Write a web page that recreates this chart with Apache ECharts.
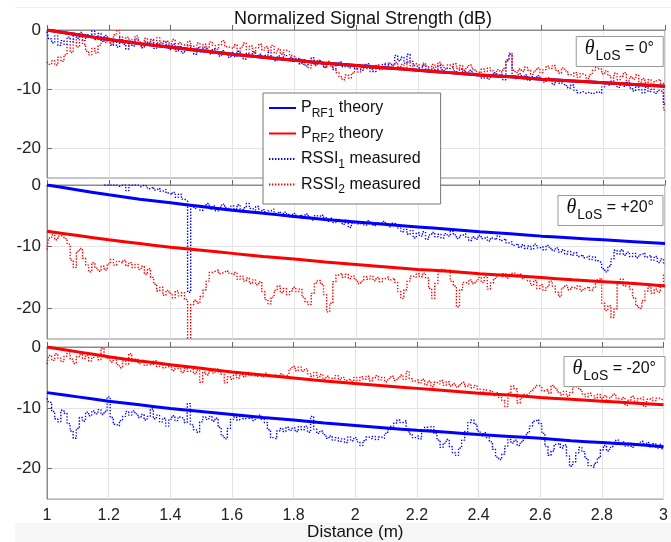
<!DOCTYPE html>
<html>
<head>
<meta charset="utf-8">
<script src="https://cdn.jsdelivr.net/npm/echarts@6/dist/echarts.min.js"></script>
<style>
  html, body { margin: 0; padding: 0; background: #fff; }
  #chart { width: 671px; height: 542px; }
</style>
</head>
<body>
<div id="chart"></div>
<script>
// Sampling of the distance axis (m)
const distStart = 1.0;
const measStep = 0.01;   // RSSI samples
const theoryStep = 0.1;  // theory curve samples

const xTicks = [1, 1.2, 1.4, 1.6, 1.8, 2, 2.2, 2.4, 2.6, 2.8, 3];
const yTicks = [0, -10, -20];
const panelAngles = ['0°', '+20°', '-20°'];
const seriesNames = ['P_RF1 theory', 'P_RF2 theory', 'RSSI_1 measured', 'RSSI_2 measured'];

// ---- theta_LoS = 0 deg ----
const p1Theory1 = [0, -0.8, -1.6, -2.3, -2.9, -3.5, -4.1, -4.6, -5.1, -5.6, -6.0, -6.4, -6.8, -7.2, -7.6, -7.9, -8.3, -8.6, -8.9, -9.2, -9.5];
const p1Theory2 = [0, -0.8, -1.6, -2.3, -2.9, -3.5, -4.1, -4.6, -5.1, -5.6, -6.0, -6.4, -6.8, -7.2, -7.6, -7.9, -8.3, -8.6, -8.9, -9.2, -9.5];
const p1Rssi1 = [
  -0.3, -1.5, -2.2, -1.0, -2.6, -1.8, -2.4, -1.2, -2.0, -0.6, -1.4, -0.4, -1.8, -0.8, -1.2, -0.2, -1.6, -0.6, -1.9, -0.9,
  -1.4, -2.6, -1.8, -2.9, -1.2, -2.4, -3.2, -1.9, -2.7, -1.5, -2.3, -3.0, -2.0, -2.6, -1.6, -3.1, -2.2, -2.8, -1.9, -2.5,
  -3.3, -2.4, -3.6, -2.8, -3.9, -3.1, -2.6, -3.5, -4.1, -3.0, -3.7, -2.9, -3.4, -4.0, -3.2, -3.8, -4.4, -3.5, -3.9, -4.6,
  -3.8, -4.5, -3.6, -4.2, -4.9, -3.9, -4.4, -3.7, -4.6, -4.1, -4.8, -4.3, -3.8, -4.7, -5.2, -4.4, -4.9, -4.2, -5.1, -4.6,
  -5.3, -4.8, -5.7, -5.0, -6.1, -5.4, -4.7, -5.9, -5.2, -5.6, -6.3, -5.3, -5.8, -6.6, -5.9, -5.4, -6.2, -5.7, -6.4, -6.0,
  -6.5, -5.9, -6.8, -6.2, -5.7, -6.6, -7.0, -6.1, -6.5, -5.8, -6.3, -5.6, -6.0, -4.3, -5.2, -4.6, -5.6, -4.1, -5.3, -6.0,
  -6.3, -6.8, -5.9, -6.6, -7.1, -6.4, -6.9, -6.0, -6.7, -7.2, -6.5, -6.2, -6.9, -7.4, -6.6, -7.0, -7.5, -6.8, -7.3, -7.7,
  -7.4, -8.1, -7.6, -8.3, -7.8, -7.2, -8.0, -7.5, -8.4, -5.2, -4.1, -7.7, -8.2, -7.4, -8.0, -7.6, -8.5, -7.9, -8.3, -7.7,
  -8.3, -8.8, -8.1, -8.6, -9.2, -8.5, -9.0, -8.7, -9.4, -9.8, -9.3, -10.2, -10.6, -10.4, -10.7, -10.5, -10.8, -10.6, -10.4, -10.7,
  -9.6, -8.8, -9.3, -8.6, -9.1, -9.7, -9.0, -9.5, -8.9, -9.8, -10.3, -9.4, -10.1, -10.6, -9.7, -10.4, -10.0, -10.7, -10.2, -10.5,
  -12.5
];
const p1Rssi2 = [
  -5.4, -5.8, -5.2, -5.9, -4.6, -5.3, -4.2, -2.5, -3.8, -1.6, -2.9, -1.2, -2.4, -3.6, -4.2, -3.1, -3.9, -2.6, -1.3, -2.1,
  -1.5, -2.4, -0.8, -0.1, -1.7, -2.2, -1.2, -2.6, -1.6, -1.0, -2.0, -2.8, -1.4, -2.2, -1.8, -2.5, -1.3, -2.1, -2.7, -1.9,
  -2.3, -1.6, -2.8, -2.1, -3.2, -2.5, -1.9, -2.7, -3.4, -2.2, -2.9, -2.4, -3.1, -2.0, -2.6, -3.3, -2.5, -1.8, -2.8, -3.0,
  -3.1, -2.5, -3.6, -2.9, -2.2, -3.3, -2.7, -3.8, -3.0, -2.4, -3.4, -2.8, -3.5, -2.6, -3.9, -3.2, -4.1, -3.4, -3.7, -4.3,
  -4.6, -5.3, -4.9, -5.8, -5.2, -6.4, -5.6, -6.0, -5.1, -5.7, -6.3, -5.5, -6.1, -6.7, -7.2, -7.9, -8.4, -7.6, -8.1, -7.3,
  -6.6, -7.1, -6.2, -5.8, -6.5, -7.0, -6.3, -5.9, -6.7, -6.1, -5.6, -6.4, -6.0, -5.5, -6.2, -5.8, -6.6, -5.4, -6.1, -5.7,
  -5.9, -6.4, -5.6, -6.1, -6.7, -5.8, -6.3, -5.5, -6.0, -6.6, -5.9, -6.2, -5.7, -6.5, -6.0, -6.8, -6.3, -5.9, -6.6, -7.0,
  -7.3, -6.6, -7.0, -6.4, -6.9, -7.4, -6.7, -7.1, -6.5, -5.0, -3.9, -6.8, -7.2, -6.6, -7.0, -6.3, -6.8, -7.5, -6.9, -6.4,
  -7.2, -6.7, -6.1, -6.5, -6.0, -6.8, -7.3, -6.4, -6.9, -7.5, -7.8, -7.2, -8.0, -7.4, -7.7, -8.2, -7.5, -6.8, -6.2, -6.6,
  -7.4, -6.9, -7.7, -8.1, -7.3, -8.4, -7.8, -7.2, -8.6, -7.9, -8.3, -7.6, -8.8, -8.2, -8.9, -8.4, -9.1, -8.6, -8.3, -9.0,
  -13.5
];

// ---- theta_LoS = +20 deg ----
const p2Theory1 = [0, -0.8, -1.6, -2.3, -2.9, -3.5, -4.1, -4.6, -5.1, -5.6, -6.0, -6.4, -6.8, -7.2, -7.6, -7.9, -8.3, -8.6, -8.9, -9.2, -9.5];
const p2Theory2 = [-7.5, -8.2, -8.9, -9.5, -10.1, -10.6, -11.1, -11.6, -12.0, -12.5, -12.9, -13.3, -13.7, -14.0, -14.4, -14.7, -15.0, -15.4, -15.7, -16.0, -16.4];
const p2Rssi1 = [
  null, null, null, null, null, null, null, null, null, null, null, null, null, null, null, null, null, null, null, 0,
  0, 0, 0, -0.2, 0, 0, -0.9, 0, 0, 0, -0.3, 0, -0.2, -0.6, -0.3, -0.8, -0.5, -1.0, -0.7, -1.3,
  -1.6, -1.2, -2.0, -1.5, -2.3, -2.6, -17.4, -3.3, -3.8, -3.3, -4.1, -3.5, -3.0, -3.9, -3.4, -4.2, -3.6, -3.1, -3.7, -4.0,
  -3.4, -3.9, -3.2, -4.4, -3.7, -3.0, -3.8, -4.1, -3.5, -4.5, -4.0, -4.7, -4.2, -3.9, -4.6, -4.3, -5.0, -4.4, -4.8, -5.2,
  -4.6, -5.1, -4.8, -5.4, -4.7, -5.2, -5.7, -5.0, -5.5, -4.9, -5.3, -5.9, -5.4, -6.1, -5.6, -5.8, -6.4, -5.7, -6.9, -6.2,
  -5.9, -6.3, -6.0, -6.5, -5.8, -6.2, -6.6, -6.1, -6.4, -5.9, -6.3, -6.8, -6.2, -6.5, -7.0, -7.6, -7.2, -8.0, -7.4, -8.6,
  -7.8, -8.3, -7.6, -8.8, -8.1, -7.7, -8.4, -8.0, -8.6, -7.9, -8.3, -7.5, -8.1, -8.7, -8.2, -7.9, -8.5, -9.0, -8.4, -8.8,
  -8.2, -8.7, -8.4, -9.1, -8.6, -8.9, -8.3, -9.0, -8.7, -9.4, -9.2, -9.8, -9.5, -10.1, -9.7, -10.3, -9.9, -10.4, -9.6, -10.2,
  -10.0, -10.5, -9.8, -10.3, -10.7, -10.2, -10.9, -10.5, -11.2, -10.8, -11.4, -11.0, -11.6, -11.3, -11.8, -11.5, -12.1, -11.7, -12.3, -12.6,
  -13.6, -14.1, -13.2, -12.0, -10.6, -11.2, -10.5, -11.4, -10.9, -11.6, -11.1, -11.8, -11.3, -11.0, -11.7, -11.4, -12.2, -11.6, -12.6, -12.0,
  -12.8
];
const p2Rssi2 = [
  -10.5, -8.6, -8.1, -8.9, -8.3, -8.0, -8.7, -9.6, -12.2, -13.4, -10.8, -10.3, -11.9, -13.0, -14.1, -12.6, -13.5, -14.0, -13.2, -13.8,
  -12.8, -12.1, -13.0, -12.4, -12.7, -12.2, -13.1, -12.6, -13.4, -12.9, -13.7, -13.2, -14.5, -13.6, -15.0, -16.1, -17.2, -16.6, -17.9, -17.1,
  -17.6, -18.3, -17.2, -18.0, -17.5, -18.6, -26.0, -19.4, -18.7, -19.2, -18.1, -17.0, -15.6, -14.2, -14.0, -13.8, -14.4, -14.1, -13.9, -14.3,
  -14.6, -14.2, -15.3, -14.8, -15.6, -15.1, -16.0, -15.4, -16.2, -15.7, -17.3, -18.6, -19.3, -18.2, -17.1, -16.4, -17.5, -16.8, -17.8, -17.2,
  -16.6, -17.3, -16.9, -18.2, -19.0, -19.4, -17.6, -15.9, -15.5, -16.1, -17.8, -20.6, -19.2, -15.7, -14.6, -14.3, -15.0, -14.5, -15.2, -14.8,
  -15.4, -16.0, -15.6, -14.9, -15.3, -14.8, -15.5, -15.0, -15.7, -15.2, -14.9, -15.4, -15.1, -15.8, -17.3, -18.4, -17.0, -15.6, -14.8, -15.0,
  -14.4, -14.9, -14.3, -15.1, -16.8, -18.4, -16.0, -14.1, -13.7, -14.0, -13.8, -15.6, -16.4, -19.8, -17.0, -15.8, -16.1, -15.4, -16.0, -15.6,
  -15.0, -15.8, -14.8, -16.9, -15.9, -15.2, -14.6, -14.9, -14.4, -15.1, -14.7, -14.3, -14.9, -14.5, -15.2, -14.8, -15.6, -16.3, -15.5, -16.8,
  -16.2, -17.1, -16.5, -15.6, -16.4, -17.4, -18.1, -16.7, -16.3, -17.0, -16.6, -16.9, -16.4, -17.2, -16.8, -16.5, -17.1, -16.7, -15.4, -15.1,
  -19.2, -20.4, -19.6, -21.5, -20.1, -16.0, -15.3, -16.4, -15.8, -16.9, -18.3, -19.6, -20.0, -18.8, -17.2, -16.5, -17.6, -16.9, -17.4, -16.2,
  -14.6
];

// ---- theta_LoS = -20 deg ----
const p3Theory1 = [-7.5, -8.2, -8.9, -9.5, -10.1, -10.6, -11.1, -11.6, -12.0, -12.5, -12.9, -13.3, -13.7, -14.0, -14.4, -14.7, -15.0, -15.4, -15.7, -16.0, -16.4];
const p3Theory2 = [0, -0.8, -1.6, -2.3, -2.9, -3.5, -4.1, -4.6, -5.1, -5.6, -6.0, -6.4, -6.8, -7.2, -7.6, -7.9, -8.3, -8.6, -8.9, -9.2, -9.5];
const p3Rssi1 = [
  -8.4, -9.1, -10.6, -11.8, -12.3, -10.4, -10.9, -12.6, -13.8, -15.0, -13.4, -11.6, -12.2, -10.7, -11.3, -10.5, -11.0, -10.3, -11.1, -10.6,
  -8.2, -11.6, -12.7, -13.0, -12.1, -11.4, -10.6, -11.2, -10.5, -11.0, -11.6, -11.1, -12.0, -11.4, -10.2, -11.8, -11.2, -12.3, -11.7, -13.0,
  -11.9, -11.3, -12.1, -11.5, -11.8, -12.4, -9.3, -12.8, -13.6, -14.0, -12.3, -11.5, -11.9, -11.4, -12.2, -11.7, -13.2, -14.6, -15.1, -13.4,
  -11.9, -11.5, -12.0, -11.4, -11.8, -11.3, -11.7, -12.1, -11.6, -11.2, -11.9, -12.4, -13.6, -14.9, -15.1, -13.8, -13.4, -13.9, -13.2, -13.7,
  -13.3, -13.9, -13.1, -13.6, -13.0, -14.0, -11.4, -13.5, -14.2, -13.8, -14.4, -15.0, -14.6, -15.3, -14.9, -15.5, -15.1, -15.7, -14.8, -15.4,
  -14.9, -15.6, -16.2, -15.4, -14.8, -15.1, -14.7, -15.2, -14.8, -15.0, -14.2, -13.6, -13.0, -12.5, -12.0, -12.4, -12.1, -13.5, -14.3, -14.9,
  -14.6, -15.1, -13.8, -13.2, -13.6, -13.1, -14.2, -15.3, -16.5, -15.8, -15.2, -16.4, -17.4, -17.8, -16.6, -15.3, -13.9, -12.4, -12.0, -12.7,
  -13.8, -14.6, -14.1, -14.9, -15.6, -16.8, -18.1, -18.5, -17.6, -16.3, -15.2, -15.8, -15.3, -16.2, -15.6, -15.0, -14.1, -13.0, -12.2, -11.9,
  -12.6, -14.2, -16.3, -17.8, -17.1, -16.0, -15.8, -16.6, -16.1, -17.9, -19.6, -18.9, -17.4, -16.5, -17.2, -18.3, -19.5, -19.8, -19.1, -18.2,
  -16.9, -16.2, -17.1, -16.5, -15.7, -15.3, -16.0, -15.6, -16.3, -15.8, -16.5, -15.9, -16.2, -15.5, -16.1, -15.7, -16.4, -15.9, -16.6, -16.0,
  -16.8
];
const p3Rssi2 = [
  -2.8, -1.4, -2.2, -1.1, -1.8, -2.4, -1.5, -1.0, -2.0, -2.7, -1.6, -1.2, -1.9, -1.4, -2.3, -1.7, -1.3, -2.1, -0.2, -1.5,
  -1.9, -2.5, -1.7, -2.9, -3.4, -2.3, -2.8, -1.1, -2.4, -2.0, -2.7, -2.2, -3.0, -2.5, -2.9, -2.3, -3.2, -2.6, -3.4, -2.8,
  -3.3, -3.9, -3.1, -3.6, -4.2, -3.5, -4.0, -3.7, -4.4, -3.8, -5.8, -4.1, -4.6, -3.9, -4.3, -3.6, -4.1, -4.5, -5.9, -4.9,
  -5.3, -4.6, -5.1, -4.4, -4.9, -4.2, -4.7, -4.4, -4.8, -4.5, -4.9, -4.3, -4.7, -5.0, -4.6, -4.9, -4.4, -4.8, -4.5, -3.6,
  -3.2, -3.9, -3.3, -4.0, -3.6, -4.4, -4.8, -4.2, -5.0, -4.5, -5.3, -4.8, -5.6, -5.1, -4.7, -5.4, -5.0, -5.5, -5.2, -5.7,
  -5.0, -5.5, -4.9, -5.3, -4.8, -5.6, -5.1, -4.7, -5.4, -5.0, -5.7, -5.2, -4.8, -5.5, -5.1, -4.6, -5.3, -4.0, -5.2, -5.6,
  -5.4, -5.9, -5.3, -6.2, -5.6, -6.5, -5.8, -6.1, -5.5, -6.3, -5.7, -6.4, -6.0, -6.6, -6.2, -5.8, -6.5, -6.1, -6.7, -6.3,
  -6.9, -7.4, -7.0, -7.8, -7.2, -8.0, -7.5, -8.3, -8.8, -9.8, -7.6, -6.4, -6.9, -9.2, -8.4, -7.8, -8.1, -7.3, -6.8, -6.3,
  -6.6, -7.2, -6.9, -7.6, -6.3, -6.8, -7.4, -7.9, -7.3, -8.1, -7.5, -6.6, -6.3, -7.0, -7.7, -8.2, -7.6, -8.0, -8.4, -7.8,
  -8.5, -8.0, -8.8, -8.2, -7.7, -8.4, -9.0, -8.3, -9.6, -8.7, -8.1, -8.9, -8.5, -8.2, -9.8, -8.6, -8.3, -8.8, -8.4, -8.6,
  -8.9
];

const panels = [
  { theory1: p1Theory1, theory2: p1Theory2, rssi1: p1Rssi1, rssi2: p1Rssi2 },
  { theory1: p2Theory1, theory2: p2Theory2, rssi1: p2Rssi1, rssi2: p2Rssi2 },
  { theory1: p3Theory1, theory2: p3Theory2, rssi1: p3Rssi1, rssi2: p3Rssi2 }
];

const BLUE = '#0000ff';
const RED = '#ff0000';
const FONT = '"Liberation Sans", Arial, Helvetica, sans-serif';
const SERIF = '"Liberation Serif", "DejaVu Serif", serif';
const AXIS_GRAY = '#8c8c8c';
const GRID_GRAY = '#e4e4e4';

// pair each value with its distance
function toPairs(values, step) {
  return values.map((v, i) => [Math.round((distStart + i * step) * 1000) / 1000, v]);
}

const gridBoxes = [
  { top: 30, height: 148 },
  { top: 185, height: 154 },
  { top: 347, height: 154 }
];

const grid = gridBoxes.map(b => ({
  left: 47, right: 6, top: b.top, height: b.height,
  show: true, borderColor: AXIS_GRAY, borderWidth: 1, backgroundColor: 'transparent'
}));

const xAxis = gridBoxes.map((b, i) => ({
  type: 'value', gridIndex: i,
  min: xTicks[0], max: xTicks[xTicks.length - 1], interval: 0.2,
  axisLine: { show: true, lineStyle: { color: AXIS_GRAY, width: 1 } },
  axisTick: { show: true, inside: true, length: 5, lineStyle: { color: '#666' } },
  splitLine: { show: true, lineStyle: { color: GRID_GRAY, width: 1 } },
  axisLabel: {
    show: i === 2, fontSize: 16, color: '#222', fontFamily: FONT, margin: 8,
    showMinLabel: true, showMaxLabel: true,
    formatter: v => String(Math.round(v * 10) / 10)
  },
  name: i === 2 ? 'Distance (m)' : '',
  nameLocation: 'middle', nameGap: 24,
  nameTextStyle: { fontSize: 17, color: '#111', fontFamily: FONT }
}));

const yAxis = gridBoxes.map((b, i) => ({
  type: 'value', gridIndex: i, min: -25, max: 0, interval: 5,
  axisLine: { show: true, lineStyle: { color: AXIS_GRAY, width: 1 } },
  axisTick: { show: true, inside: true, length: 5, customValues: yTicks, lineStyle: { color: '#666' } },
  splitLine: { show: true, lineStyle: { color: GRID_GRAY, width: 1 } },
  axisLabel: { customValues: yTicks, fontSize: 17, color: '#222', fontFamily: FONT, margin: 6 }
}));

const series = [];
panels.forEach((p, i) => {
  series.push({
    name: seriesNames[2], type: 'line', xAxisIndex: i, yAxisIndex: i,
    data: toPairs(p.rssi1, measStep), showSymbol: false, symbol: 'none', step: 'middle',
    lineStyle: { color: BLUE, width: 1.4, type: [1.4, 1.6] }, itemStyle: { color: BLUE },
    z: 2, silent: true
  });
  series.push({
    name: seriesNames[3], type: 'line', xAxisIndex: i, yAxisIndex: i,
    data: toPairs(p.rssi2, measStep), showSymbol: false, symbol: 'none', step: 'middle',
    lineStyle: { color: RED, width: 1.4, type: [1.4, 1.6] }, itemStyle: { color: RED },
    z: 2, silent: true
  });
  series.push({
    name: seriesNames[0], type: 'line', xAxisIndex: i, yAxisIndex: i,
    data: toPairs(p.theory1, theoryStep), showSymbol: false, symbol: 'none', smooth: 0.3,
    lineStyle: { color: BLUE, width: 3 }, itemStyle: { color: BLUE }, z: 3, silent: true
  });
  series.push({
    name: seriesNames[1], type: 'line', xAxisIndex: i, yAxisIndex: i,
    data: toPairs(p.theory2, theoryStep), showSymbol: false, symbol: 'none', smooth: 0.3,
    lineStyle: { color: RED, width: 3 }, itemStyle: { color: RED }, z: 4, silent: true
  });
});

const legendLabels = {
  'P_RF1 theory': 'P{s|RF1} theory',
  'P_RF2 theory': 'P{s|RF2} theory',
  'RSSI_1 measured': 'RSSI{s|1} measured',
  'RSSI_2 measured': 'RSSI{s|2} measured'
};

const angleRich = {
  th: { fontFamily: SERIF, fontStyle: 'italic', fontWeight: 'normal', fontSize: 20, color: '#111' },
  sub: { fontFamily: FONT, fontWeight: 'normal', fontSize: 14, color: '#111', padding: [14, 0, 0, 1] },
  n: { fontFamily: FONT, fontWeight: 'normal', fontSize: 16, color: '#111' }
};
const angleBoxes = [
  { right: 8, top: 32 },
  { right: 8, top: 191 },
  { right: 6, top: 352 }
];

const title = [{
  text: 'Normalized Signal Strength (dB)',
  left: 229, top: 5,
  textStyle: { fontSize: 18, fontWeight: 'normal', color: '#111', fontFamily: FONT }
}].concat(panelAngles.map((a, i) => ({
  text: '{th|θ}{sub|LoS}{n| = ' + a + '}',
  right: angleBoxes[i].right, top: angleBoxes[i].top,
  padding: [3, 9, 4, 9],
  backgroundColor: '#fff', borderColor: '#999', borderWidth: 1,
  textStyle: { fontWeight: 'normal', rich: angleRich }
})));

const chart = echarts.init(document.getElementById('chart'), null, { renderer: 'canvas' });
chart.setOption({
  animation: false,
  backgroundColor: '#fff',
  title,
  grid, xAxis, yAxis, series,
  legend: {
    orient: 'vertical', left: 263, top: 93,
    padding: [7, 20, 8, 5], itemGap: 6, itemWidth: 27, itemHeight: 14,
    backgroundColor: '#fff', borderColor: '#777', borderWidth: 1, borderRadius: 0,
    selectedMode: false,
    itemStyle: { opacity: 0 },
    data: seriesNames,
    formatter: name => legendLabels[name],
    textStyle: {
      fontSize: 16, color: '#111', fontFamily: FONT,
      rich: { s: { fontSize: 12, color: '#111', fontFamily: FONT, padding: [11, 0, 0, 0] } }
    }
  },
  graphic: [
    { type: 'rect', z: -10, silent: true, shape: { x: 15, y: 523, width: 656, height: 19 }, style: { fill: '#f6f6f6' } },
    { type: 'line', z: -10, silent: true, shape: { x1: 15, y1: 7.5, x2: 671, y2: 7.5 }, style: { stroke: '#f0f0f0', lineWidth: 1 } }
  ]
});
</script>
</body>
</html>
